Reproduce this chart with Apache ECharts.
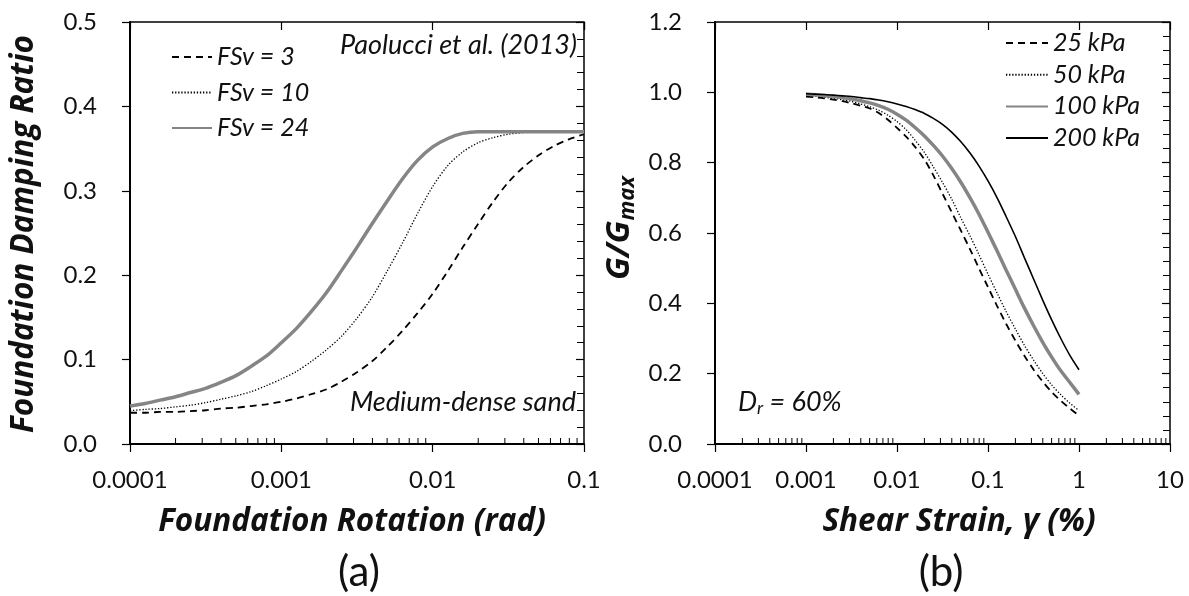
<!DOCTYPE html>
<html>
<head>
<meta charset="utf-8">
<script src="https://cdn.jsdelivr.net/npm/echarts@6/dist/echarts.min.js"></script>
<style>
  html, body { margin: 0; padding: 0; background: #fff; }
  #chart { width: 1189px; height: 596px; }
</style>
</head>
<body>
<div id="chart"></div>
<script>
// ---- (a) foundation damping ratio vs foundation rotation (rad) ----
const rotation = [0.0001, 0.000126, 0.000158, 0.0002, 0.000251, 0.000316, 0.000398, 0.000501, 0.000631, 0.000794,
                  0.001, 0.00126, 0.00158, 0.002, 0.00251, 0.00316, 0.00398, 0.00501, 0.00631, 0.00794,
                  0.01, 0.0126, 0.0158, 0.02, 0.0251, 0.0316, 0.0398, 0.0501, 0.0631, 0.0794, 0.1];
const dampFSv3  = [0.037, 0.037, 0.038, 0.038, 0.039, 0.040, 0.042, 0.043, 0.045, 0.047,
                   0.050, 0.054, 0.059, 0.065, 0.074, 0.085, 0.098, 0.115, 0.134, 0.155,
                   0.178, 0.205, 0.233, 0.261, 0.287, 0.310, 0.328, 0.342, 0.353, 0.361, 0.367];
const dampFSv10 = [0.0395, 0.041, 0.042, 0.044, 0.046, 0.049, 0.053, 0.057, 0.062, 0.069,
                   0.077, 0.086, 0.098, 0.112, 0.128, 0.149, 0.174, 0.205, 0.238, 0.273,
                   0.305, 0.330, 0.346, 0.357, 0.363, 0.367, 0.369, 0.370, 0.370, 0.370, 0.370];
const dampFSv24 = [0.045, 0.048, 0.052, 0.056, 0.061, 0.066, 0.073, 0.081, 0.092, 0.104,
                   0.120, 0.137, 0.157, 0.180, 0.206, 0.233, 0.261, 0.288, 0.314, 0.336,
                   0.352, 0.362, 0.368, 0.370, 0.370, 0.370, 0.370, 0.370, 0.370, 0.370, 0.370];
const namesA = ['FSv = 3', 'FSv = 10', 'FSv = 24'];
const xTicksA = [0.0001, 0.001, 0.01, 0.1];
const xLabelsA = ['0.0001', '0.001', '0.01', '0.1'];

// ---- (b) G/Gmax vs shear strain (%) ----
const strain = [0.001, 0.00126, 0.00158, 0.002, 0.00251, 0.00316, 0.00398, 0.00501, 0.00631, 0.00794,
                0.01, 0.0126, 0.0158, 0.02, 0.0251, 0.0316, 0.0398, 0.0501, 0.0631, 0.0794,
                0.1, 0.126, 0.158, 0.2, 0.251, 0.316, 0.398, 0.501, 0.631, 0.794, 1];
const g25  = [0.988, 0.986, 0.983, 0.979, 0.975, 0.969, 0.962, 0.954, 0.941, 0.922,
              0.899, 0.874, 0.845, 0.809, 0.764, 0.712, 0.660, 0.608, 0.555, 0.500,
              0.446, 0.392, 0.342, 0.294, 0.251, 0.212, 0.178, 0.148, 0.123, 0.101, 0.081];
const g50  = [0.991, 0.989, 0.986, 0.983, 0.979, 0.974, 0.967, 0.959, 0.949, 0.935,
              0.917, 0.894, 0.864, 0.829, 0.788, 0.744, 0.697, 0.644, 0.593, 0.539,
              0.483, 0.429, 0.377, 0.327, 0.281, 0.239, 0.201, 0.168, 0.140, 0.116, 0.095];
const g100 = [0.995, 0.993, 0.991, 0.988, 0.985, 0.981, 0.976, 0.970, 0.962, 0.952,
              0.938, 0.921, 0.900, 0.876, 0.849, 0.819, 0.784, 0.745, 0.701, 0.654,
              0.602, 0.549, 0.495, 0.440, 0.387, 0.337, 0.290, 0.247, 0.208, 0.175, 0.141];
const g200 = [0.996, 0.995, 0.994, 0.992, 0.990, 0.988, 0.985, 0.982, 0.978, 0.973,
              0.967, 0.960, 0.951, 0.940, 0.926, 0.909, 0.887, 0.860, 0.828, 0.791,
              0.748, 0.700, 0.647, 0.590, 0.530, 0.470, 0.410, 0.353, 0.300, 0.252, 0.211];
const namesB = ['25 kPa', '50 kPa', '100 kPa', '200 kPa'];
const xTicksB = [0.0001, 0.001, 0.01, 0.1, 1, 10];
const xLabelsB = ['0.0001', '0.001', '0.01', '0.1', '1', '10'];

const FONT = 'Lato, "Open Sans", sans-serif';
const TITLE_FONT = '"Open Sans", Lato, sans-serif';
const INK = '#111';
const GRAY = '#858585';

const pair = (xs, ys) => xs.map((x, i) => [x, ys[i]]);

// minor log ticks at 2..9 inside each decade
function minorTicks(decades) {
  const out = [];
  for (let i = 0; i < decades.length - 1; i++) {
    for (let k = 2; k <= 9; k++) out.push([decades[i] * k, 0]);
  }
  return out;
}

function labelFor(ticks, labels) {
  return function (v) {
    let best = 0, bd = Infinity;
    ticks.forEach((t, i) => {
      const d = Math.abs(Math.log10(v) - Math.log10(t));
      if (d < bd) { bd = d; best = i; }
    });
    return labels[best];
  };
}

// main axis draws line, labels and the outer half of the major ticks;
// the overlay copy draws the inner half (and minor ticks on y)
function logX(gridIndex, min, max, ticks, labels, main) {
  return {
    type: 'log', logBase: 10, gridIndex, min, max, interval: 1,
    axisLine: { show: main, onZero: false, lineStyle: { color: '#000', width: 2 } },
    axisTick: { show: true, inside: !main, length: 8, lineStyle: { color: '#000', width: 1.2 } },
    axisLabel: { show: main, margin: 24, fontSize: 24, color: INK, fontFamily: FONT,
                 formatter: labelFor(ticks, labels) },
    splitLine: { show: false }, minorSplitLine: { show: false }
  };
}

function valY(gridIndex, max, interval, main) {
  return {
    type: 'value', gridIndex, min: 0, max, interval,
    axisLine: { show: main, onZero: false, lineStyle: { color: '#000', width: 2 } },
    axisTick: { show: true, inside: !main, length: 8, lineStyle: { color: '#000', width: 1.2 } },
    minorTick: { show: !main, splitNumber: 5, length: 7, lineStyle: { color: '#000', width: 1 } },
    axisLabel: { show: main, margin: 33, fontSize: 24, color: INK, fontFamily: FONT,
                 formatter: v => v.toFixed(1) },
    splitLine: { show: false }, minorSplitLine: { show: false }
  };
}

function tickSeries(xi, yi, data) {
  return {
    type: 'custom', xAxisIndex: xi, yAxisIndex: yi, data, silent: true, z: 5,
    renderItem: function (params, api) {
      const p = api.coord([api.value(0), api.value(1)]);
      return { type: 'line', shape: { x1: p[0], y1: p[1], x2: p[0], y2: p[1] - 6 },
               style: { stroke: '#000', lineWidth: 1 } };
    }
  };
}

const dashed = { color: '#000', width: 1.8, type: [7, 5] };
const dotted = { color: '#000', width: 1.3, type: [1.3, 1.8] };
const thickGray = { color: GRAY, width: 3.5, type: 'solid' };
const thinBlack = { color: '#000', width: 1.6, type: 'solid' };

function curve(name, xi, yi, data, ls) {
  return {
    name, type: 'line', xAxisIndex: xi, yAxisIndex: yi, data,
    showSymbol: false, symbol: 'none', smooth: 0.3,
    lineStyle: ls, itemStyle: { color: ls.color }, z: 3
  };
}

const legendText = { fontSize: 25, fontStyle: 'italic', color: INK, fontFamily: FONT, lineHeight: 26 };
const noteStyle = { fontSize: 27, fontStyle: 'italic', fontFamily: FONT, fill: INK };
const titleStyle = { fontSize: 31.5, fontStyle: 'italic', fontWeight: 'bold', fontFamily: TITLE_FONT, fill: INK };

const option = {
  backgroundColor: '#fff',
  animation: false,
  grid: [
    { left: 130, right: 605, top: 22, bottom: 152, show: true, borderColor: '#000', borderWidth: 1.5, backgroundColor: 'transparent' },
    { left: 715, right: 19, top: 22, bottom: 152, show: true, borderColor: '#000', borderWidth: 1.5, backgroundColor: 'transparent' }
  ],
  xAxis: [
    logX(0, 0.0001, 0.1, xTicksA, xLabelsA, true),
    logX(0, 0.0001, 0.1, xTicksA, xLabelsA, false),
    logX(1, 0.0001, 10, xTicksB, xLabelsB, true),
    logX(1, 0.0001, 10, xTicksB, xLabelsB, false)
  ],
  yAxis: [
    valY(0, 0.5, 0.1, true),
    valY(0, 0.5, 0.1, false),
    valY(1, 1.2, 0.2, true),
    valY(1, 1.2, 0.2, false)
  ],
  legend: [
    { data: namesA, orient: 'vertical', left: 171, top: 44, padding: 0,
      itemWidth: 40, itemHeight: 14, itemGap: 9.5, itemStyle: { opacity: 0 }, textStyle: legendText },
    { data: namesB, orient: 'vertical', left: 1005, top: 30, padding: 0,
      itemWidth: 42, itemHeight: 14, itemGap: 5.7, itemStyle: { opacity: 0 }, textStyle: legendText }
  ],
  series: [
    curve(namesA[0], 0, 0, pair(rotation, dampFSv3), dashed),
    curve(namesA[1], 0, 0, pair(rotation, dampFSv10), dotted),
    curve(namesA[2], 0, 0, pair(rotation, dampFSv24), thickGray),
    curve(namesB[0], 2, 2, pair(strain, g25), dashed),
    curve(namesB[1], 2, 2, pair(strain, g50), dotted),
    curve(namesB[2], 2, 2, pair(strain, g100), thickGray),
    curve(namesB[3], 2, 2, pair(strain, g200), thinBlack),
    tickSeries(0, 0, minorTicks(xTicksA)),
    tickSeries(2, 2, minorTicks(xTicksB))
  ],
  graphic: [
    { type: 'text', x: 577, y: 45, style: Object.assign({ text: 'Paolucci et al. (2013)', align: 'right', verticalAlign: 'middle' }, noteStyle) },
    { type: 'text', x: 576, y: 402, style: Object.assign({ text: 'Medium-dense sand', align: 'right', verticalAlign: 'middle' }, noteStyle) },
    { type: 'text', x: 738, y: 402, style: { text: '{n|D}{s|r}{n| = 60%}', align: 'left', verticalAlign: 'middle',
      rich: { n: noteStyle,
              s: { fontSize: 18, fontStyle: 'italic', fontFamily: FONT, fill: INK, padding: [13, 0, 0, 0] } } } },
    { type: 'text', x: 352, y: 522, style: Object.assign({ text: 'Foundation Rotation (rad)', align: 'center', verticalAlign: 'middle' }, titleStyle) },
    { type: 'text', x: 959, y: 522, style: Object.assign({ text: 'Shear Strain, γ (%)', align: 'center', verticalAlign: 'middle' }, titleStyle) },
    { type: 'text', x: 24, y: 234, rotation: Math.PI / 2,
      style: Object.assign({ text: 'Foundation Damping Ratio', align: 'center', verticalAlign: 'middle' }, titleStyle) },
    { type: 'text', x: 620, y: 228, rotation: Math.PI / 2, style: { text: '{g|G/G}{s|max}', align: 'center',
      verticalAlign: 'middle',
      rich: { g: { fontSize: 33, fontStyle: 'italic', fontWeight: 'bold', fontFamily: TITLE_FONT, fill: INK },
              s: { fontSize: 22, fontStyle: 'italic', fontWeight: 'bold', fontFamily: TITLE_FONT, fill: INK, padding: [15, 0, 0, 0] } } } },
    { type: 'text', x: 359, y: 572, style: { text: '(a)', align: 'center', verticalAlign: 'middle',
      fontSize: 42, fontFamily: FONT, fill: INK } },
    { type: 'text', x: 941, y: 572, style: { text: '(b)', align: 'center', verticalAlign: 'middle',
      fontSize: 42, fontFamily: FONT, fill: INK } }
  ]
};

const chart = echarts.init(document.getElementById('chart'), null, { renderer: 'canvas' });
chart.setOption(option);
</script>
</body>
</html>
